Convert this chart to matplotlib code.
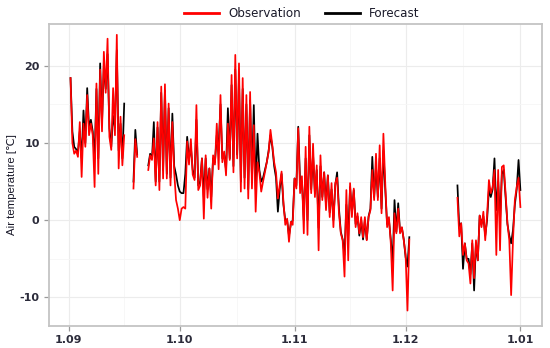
import matplotlib
matplotlib.use("Agg")
import matplotlib.pyplot as plt
import numpy as np
import pandas as pd
from matplotlib.lines import Line2D

plt.rcParams["axes.unicode_minus"] = False

# ---------------- data (12-hourly, four continuous segments) ----------------
seg_starts = ["2018-09-01 12:00", "2018-09-18 12:00",
              "2018-09-22 12:00", "2018-12-15 00:00"]
step = "12h"

obs_1 = [18.4, 10.0, 8.6, 9.0, 8.2, 12.7, 5.6, 12.5, 9.5, 16.2, 11.0, 12.5, 11.0, 4.3, 17.7,
         6.0, 19.5, 11.5, 21.8, 16.5, 23.5, 10.8, 9.1, 17.1, 11.0, 24.0, 6.7, 13.4, 7.1, 11.0]
fc_1 = [18.4, 11.5, 9.5, 9.2, 8.8, 11.5, 8.0, 14.2, 10.0, 17.1, 12.0, 13.0, 11.5, 8.0, 17.0,
        8.0, 20.3, 12.5, 20.0, 17.0, 21.5, 11.9, 9.5, 13.5, 12.0, 22.0, 9.0, 12.5, 8.0, 15.1]

obs_2 = [4.1, 10.5, 8.2]
fc_2 = [5.0, 11.7, 8.5]

obs_3 = [6.5, 8.4, 7.8, 10.6, 4.5, 12.7, 3.9, 17.3, 5.4, 17.6, 5.4, 15.1, 4.5, 12.7, 6.2,
         2.6, 1.5, 0.0, 1.5, 1.7, 1.5,
         10.2, 7.2, 10.5, 5.9, 5.2, 14.9, 3.9, 4.5, 8.0, 0.2, 8.4, 2.9, 6.7, 1.5, 8.4,
         7.2, 12.5, 6.6, 16.2,
         7.5, 8.9, 5.8, 12.5, 7.8, 18.8, 6.2, 21.4, 8.0, 20.3, 3.7, 18.4, 4.1, 16.2, 2.8,
         16.6, 4.1, 12.3, 1.1, 7.5, 6.2, 3.7, 5.0, 6.2, 7.5, 8.8, 11.7, 9.7, 7.5, 6.2,
         2.8, 4.5, 6.3, 2.4, -0.6, 0.2, -2.8, -0.2, -0.6, 5.4, 4.1, 11.9,
         3.5, 5.7, -1.7, 9.5, -1.9, 12.1, 3.5, 9.9, 3.0, 7.1, -3.9, 8.4, 2.6, 6.2, 1.3,
         5.8, 0.4, 4.8, -0.9, 4.8,
         5.5, 0.9, -1.7, -2.6, -7.3, 3.9, -5.2, 4.8, 0.4, 4.1, -0.9, 0.9, -1.7, 0.4, -2.2,
         0.4, -2.6, 0.4, 1.3, 6.5,
         2.6, 8.6, 2.6, 9.7, 0.9, 11.2, 4.8, -0.9, 0.4, -3.0, -9.1, 0.9, -1.7, 1.5, -1.7,
         -0.9, -2.6, -4.5, -11.7, -2.5]
fc_3 = [7.1, 8.6, 8.0, 12.7, 5.0, 12.0, 5.0, 16.5, 6.5, 16.8, 6.0, 14.5, 5.5, 13.8, 7.0,
        5.9, 4.5, 3.7, 3.5, 3.5, 6.0,
        10.8, 8.0, 9.5, 6.5, 5.5, 13.0, 4.5, 5.0, 8.0, 3.0, 8.0, 4.0, 6.7, 3.0, 8.0,
        7.5, 11.0, 9.5, 15.0,
        8.0, 8.5, 6.5, 14.5, 8.0, 17.5, 7.0, 19.5, 8.5, 18.5, 5.0, 17.0, 5.5, 15.0, 4.0,
        15.5, 5.5, 14.9, 4.0, 11.2, 6.5, 5.0, 5.5, 6.5, 7.5, 9.0, 11.0, 9.5, 7.0, 5.5,
        1.1, 4.0, 6.0, 2.0, 0.0, 0.0, -2.0, -0.5, 0.0, 5.4, 4.5, 12.1,
        5.0, 5.0, 0.0, 8.0, 0.0, 11.0, 4.0, 8.5, 3.5, 6.5, -1.0, 7.0, 3.0, 6.2, 2.0,
        5.8, 1.0, 4.0, 0.0, 4.5,
        6.2, 1.5, -1.5, -2.5, -4.5, 2.0, -2.0, 4.3, 1.0, 3.9, -0.5, 0.5, -2.0, 0.0, -2.5,
        0.0, -2.5, 0.5, 1.5, 8.2,
        3.0, 7.0, 3.0, 8.0, 1.5, 9.0, 4.0, -0.5, 0.0, -2.5, -5.6, 2.6, -1.5, 2.2, -1.5,
        -1.0, -2.5, -4.8, -6.0, -2.2]

obs_4 = [2.9, -2.1, -0.4, -4.5, -3.0, -5.2, -5.6, -8.2, -2.6, -7.5,
         -2.6, -5.2, 0.6, -0.9, 1.1, -2.6, 0.6, 5.2, 3.5, 4.3,
         6.5, -4.5, 6.5, -3.9, 6.9, 7.1, 3.5, -0.4, -2.6, -9.7,
         -2.6, 2.6, 4.3, 5.5, 1.7]
fc_4 = [4.5, -1.0, -0.4, -6.3, -3.0, -5.0, -5.0, -7.0, -3.0, -9.1,
        -3.0, -5.2, 0.6, -0.5, 0.5, -2.0, 0.0, 4.0, 3.0, 4.0,
        8.0, 1.3, 5.0, 0.0, 6.0, 6.5, 3.0, -0.5, -2.0, -3.0,
        -1.3, 2.0, 4.0, 7.8, 3.9]

tick_dates = ["2018-09-01", "2018-10-01", "2018-11-01", "2018-12-01", "2019-01-01"]
tick_labels = ["1.09", "1.10", "1.11", "1.12", "1.01"]
y_ticks = [-10, 0, 10, 20]
series_names = ["Observation", "Forecast"]
series_colors = ["#ff0000", "#000000"]

# ---------------- figure ----------------
fig = plt.figure(figsize=(5.5, 3.48), dpi=100)
ax = fig.add_axes([0.0884, 0.0632, 0.986 - 0.0884, 0.931 - 0.0632])

obs_segs = [obs_1, obs_2, obs_3, obs_4]
fc_segs = [fc_1, fc_2, fc_3, fc_4]
for start, o, f in zip(seg_starts, obs_segs, fc_segs):
    t = pd.date_range(start, periods=len(o), freq=step)
    ax.plot(t, f, color=series_colors[1], lw=1.25, zorder=3)
    ax.plot(t, o, color=series_colors[0], lw=1.25, zorder=4)

ax.set_xlim(pd.Timestamp("2018-08-26 14:00"), pd.Timestamp("2019-01-06 22:00"))
ax.set_ylim(-13.7, 25.4)

tks = pd.to_datetime(tick_dates)
ax.set_xticks(tks)
ax.set_xticklabels(tick_labels)
minor_x = [tks[i] + (tks[i + 1] - tks[i]) / 2 for i in range(len(tks) - 1)]
ax.set_xticks(minor_x, minor=True)
ax.set_yticks(y_ticks)
ax.set_yticks([-5, 5, 15], minor=True)

ax.grid(True, which="major", color="#ececec", lw=0.8, zorder=0)
ax.grid(True, which="minor", color="#f6f6f6", lw=0.6, zorder=0)
ax.set_axisbelow(True)

for s in ax.spines.values():
    s.set_color("#c4c4c4")
    s.set_linewidth(1.3)

ax.tick_params(which="major", length=3.5, width=0.9, color="#9a9a9a",
               labelsize=8, labelcolor="#2b2b3a", pad=3)
ax.tick_params(which="minor", length=0)
for lab in ax.get_xticklabels() + ax.get_yticklabels():
    lab.set_fontweight("bold")

ax.set_ylabel("Air temperature [℃]", fontsize=8.2, color="#1a1a2a",
              family=["Liberation Sans", "DejaVu Sans"])
ax.yaxis.set_label_coords(-0.064, 0.47)

handles = [Line2D([0], [0], color=c, lw=2) for c in series_colors]
fig.legend(handles, series_names, loc="center", bbox_to_anchor=(0.549, 0.961),
           ncol=2, frameon=False, fontsize=8.6, handlelength=2.9, columnspacing=2.0,
           handletextpad=0.8)
for txt in fig.legends[0].get_texts():
    txt.set_color("#1a1a2a")

fig.savefig("out.png", dpi=100, facecolor="white")
